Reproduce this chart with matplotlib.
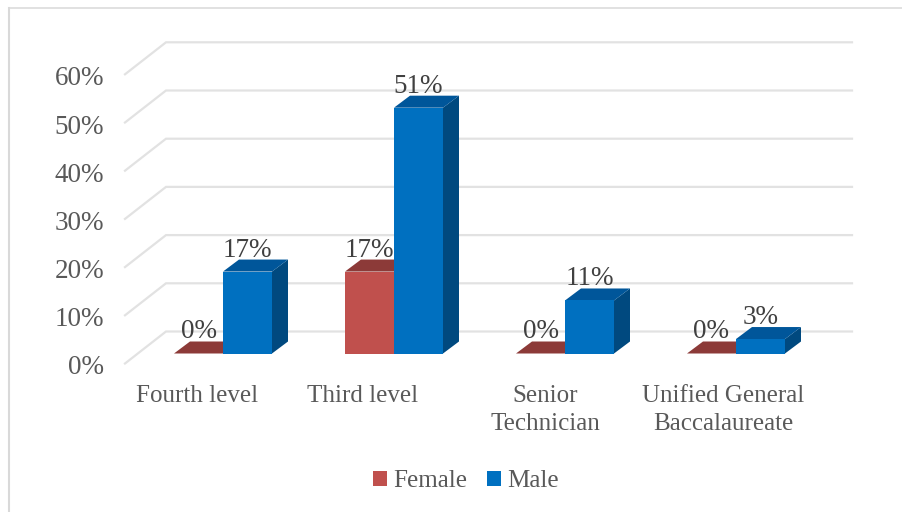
import matplotlib
matplotlib.use("Agg")
import matplotlib.pyplot as plt
from matplotlib.patches import Polygon, Patch
from matplotlib.lines import Line2D

categories = ["Fourth level", "Third level", "Senior\nTechnician", "Unified General\nBaccalaureate"]
female = [0, 17, 0, 0]
male = [17, 51, 11, 3]
ticks = [0, 10, 20, 30, 40, 50, 60]
series_names = ["Female", "Male"]

W, H = 902, 512
PX_X = 171.0      # px per category
PX_Y = 4.82       # px per percent
X0 = 223.0        # px of category 0 split
Y0 = 353.5        # px of 0%
BAR = 49 / PX_X
DX, DY = 16 / PX_X, 12 / PX_Y
FONT = ["Liberation Serif"]
FS = 18
FS_NUM = 19.5
TXT = "#595959"
GRID = "#e2e2e2"

fig = plt.figure(figsize=(W / 100, H / 100), dpi=100, facecolor="white")
ax = fig.add_axes([0, 0, 1, 1])
ax.set_xlim(-X0 / PX_X, (W - X0) / PX_X)
ax.set_ylim(-(H - Y0) / PX_Y, Y0 / PX_Y)
ax.axis("off")

# chart frame
ax.add_line(Line2D([8.5 / W, 8.5 / W], [0, 1 - 7.5 / H],
                   transform=ax.transAxes, color="#d9d9d9", lw=1.5))
ax.add_line(Line2D([8.5 / W, 1], [1 - 7.5 / H, 1 - 7.5 / H],
                   transform=ax.transAxes, color="#d9d9d9", lw=1.1))

# walls
wx0, wx1 = (166 - X0) / PX_X, (852 - X0) / PX_X
wy = 22 / PX_Y
fx, fy = -41 / PX_X, -32 / PX_Y
for t in ticks:
    ax.plot([wx0 + fx, wx0, wx1], [t + wy + fy, t + wy, t + wy], color=GRID, lw=1.6, zorder=1,
            solid_joinstyle="miter")
    ax.text((104 - X0) / PX_X, t - 11.5 / PX_Y, f"{t}%", ha="right", va="center_baseline",
            family=FONT, fontsize=FS_NUM, color=TXT)


def bar3d(x, v, front, top, side):
    ax.add_patch(Polygon([(x + BAR, 0), (x + BAR + DX, DY), (x + BAR + DX, v + DY), (x + BAR, v)],
                         facecolor=side, edgecolor="none", zorder=2))
    ax.add_patch(Polygon([(x, v), (x + DX, v + DY), (x + BAR + DX, v + DY), (x + BAR, v)],
                         facecolor=top, edgecolor="none", zorder=2))
    if v > 0:
        ax.add_patch(Polygon([(x, 0), (x + BAR, 0), (x + BAR, v), (x, v)],
                             facecolor=front, edgecolor="none", zorder=2))


for i, (f, m) in enumerate(zip(female, male)):
    bar3d(i - BAR, f, "#C0504D", "#8C3A38", "#8C3A38")
    bar3d(i, m, "#0070C0", "#00569A", "#00497F")
    for x, v in ((i - BAR / 2, f), (i + BAR / 2, m)):
        ax.text(x, v + 24.5 / PX_Y, f"{v}%", ha="center", va="center_baseline",
                family=FONT, fontsize=FS_NUM, color="#404040", zorder=3)

label_px = [197.5, 363, 545, 723.5]
for lab, lx in zip(categories, label_px):
    ax.text((lx - X0) / PX_X, (Y0 - 384.5) / PX_Y, lab, ha="center", va="top", linespacing=1.38,
            family=FONT, fontsize=FS, color=TXT)

handles = [Patch(facecolor="#C0504D", label=series_names[0]),
           Patch(facecolor="#0070C0", label=series_names[1])]
fig.legend(handles=handles, ncol=2, loc="center", bbox_to_anchor=(466 / W, 1 - 481 / H),
           frameon=False, prop={"family": FONT, "size": FS}, labelcolor=TXT,
           handlelength=0.54, handleheight=0.54, handletextpad=0.25, columnspacing=0.8,
           borderpad=0, borderaxespad=0)

fig.savefig("out.png", dpi=100)
